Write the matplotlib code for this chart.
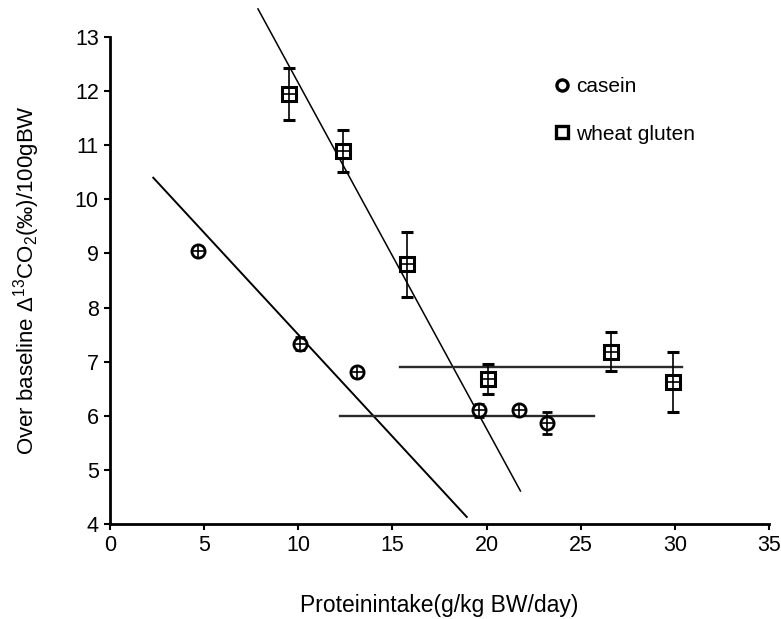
import matplotlib
matplotlib.use("Agg")
import matplotlib.pyplot as plt
from matplotlib.lines import Line2D

plt.rcParams['font.family'] = ['Liberation Sans', 'DejaVu Sans']
plt.rcParams['mathtext.fontset'] = 'custom'
plt.rcParams['mathtext.rm'] = 'Liberation Sans'
plt.rcParams['mathtext.it'] = 'Liberation Sans'
plt.rcParams['mathtext.bf'] = 'Liberation Sans:bold'

# Casein data
casein_x = [4.7, 10.1, 13.1, 19.6, 21.7, 23.2]
casein_y = [9.05, 7.33, 6.8, 6.1, 6.1, 5.87]
casein_err = [0.08, 0.12, 0.08, 0.12, 0.08, 0.2]

# Wheat gluten data
gluten_x = [9.5, 12.4, 15.8, 20.1, 26.6, 29.9]
gluten_y = [11.95, 10.89, 8.8, 6.68, 7.18, 6.62]
gluten_err = [0.48, 0.39, 0.6, 0.27, 0.36, 0.55]

# Broken-line fits: descending segment endpoints and plateau
casein_slope_x = [2.3, 18.95]
casein_slope_y = [10.4, 4.13]
casein_plateau_x = [12.2, 25.7]
casein_plateau_y = [6.0, 6.0]

gluten_slope_x = [7.86, 21.8]
gluten_slope_y = [13.52, 4.61]
gluten_plateau_x = [15.4, 30.4]
gluten_plateau_y = [6.9, 6.9]

xticks = [0, 5, 10, 15, 20, 25, 30, 35]
yticks = [4, 5, 6, 7, 8, 9, 10, 11, 12, 13]

fig = plt.figure(figsize=(7.81, 6.19), dpi=100)
ax = fig.add_axes([0.1408, 0.1535, 0.8438, 0.7867])

ax.plot(casein_slope_x, casein_slope_y, color='black', lw=1.4, clip_on=False)
ax.plot(casein_plateau_x, casein_plateau_y, color='#2a2a2a', lw=1.7, clip_on=False)
ax.plot(gluten_slope_x, gluten_slope_y, color='black', lw=1.1, clip_on=False)
ax.plot(gluten_plateau_x, gluten_plateau_y, color='#2a2a2a', lw=1.7, clip_on=False)

ax.errorbar(casein_x, casein_y, yerr=casein_err, fmt='o', ms=9.5, mfc='white',
            mec='black', mew=2.0, ecolor='black', elinewidth=1.2, capsize=3.5,
            capthick=1.2, zorder=3)
ax.plot(casein_x, casein_y, ls='none', marker='+', ms=8, mec='black', mew=1.2, zorder=4)

ax.errorbar(gluten_x, gluten_y, yerr=gluten_err, fmt='s', ms=10, mfc='white',
            mec='black', mew=2.2, ecolor='black', elinewidth=1.2, capsize=4,
            capthick=1.2, zorder=3)
ax.plot(gluten_x, gluten_y, ls='none', marker='+', ms=9, mec='black', mew=1.2, zorder=4)

ax.set_xlim(0, 35)
ax.set_ylim(4, 13)
ax.set_xticks(xticks)
ax.set_yticks(yticks)
ax.tick_params(axis='both', direction='out', length=4, width=1.5, labelsize=15.5, pad=4)

for side in ('top', 'right'):
    ax.spines[side].set_visible(False)
for side in ('left', 'bottom'):
    ax.spines[side].set_linewidth(2.0)

ax.set_xlabel('Proteinintake(g/kg BW/day)', fontsize=16.5, labelpad=27)
ax.set_ylabel('Over baseline Δ$^{13}$CO$_2$(‰)/100gBW', fontsize=16, labelpad=24)

handles = [
    Line2D([], [], ls='none', marker='o', ms=8, mfc='white', mec='black', mew=2.4),
    Line2D([], [], ls='none', marker='s', ms=8, mfc='white', mec='black', mew=2.4),
]
fig.legend(handles, ['casein', 'wheat gluten'], loc='upper left',
           bbox_to_anchor=(544 / 781, 1 - 67 / 619), frameon=False,
           fontsize=15, handlelength=0.7, handletextpad=0.35, labelspacing=1.35,
           borderpad=0)

fig.savefig('out.png', dpi=100)
